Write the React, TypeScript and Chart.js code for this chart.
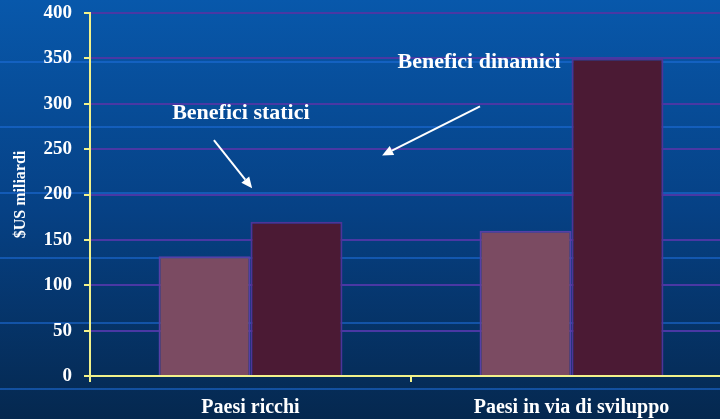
import React, { useEffect, useRef } from "react";
import { Chart, registerables } from "chart.js";

Chart.register(...registerables);

const categories = ["Paesi ricchi", "Paesi in via di sviluppo"];
const seriesNames = ["Benefici statici", "Benefici dinamici"];
const staticValues = [132, 160];
const dynamicValues = [170, 350];
const yTicks = [0, 50, 100, 150, 200, 250, 300, 350, 400];
const yTitle = "$US miliardi";
// annotation texts (position in category index / value units)
const noteTexts = ["Benefici statici", "Benefici dinamici"];
const noteX = [-0.03, 0.712];
const noteY = [289, 346];
// arrows: [x, y] in category index / value units
const arrowStart = [[-0.114, 260], [0.715, 297]];
const arrowEnd = [[0.005, 207], [0.41, 243]];

const SERIF = "'Liberation Serif', 'Times New Roman', serif";

const annotPlugin = {
  id: "annot",
  afterDatasetsDraw(chart: any) {
    const { ctx, scales } = chart;
    const xs = scales.x;
    const ys = scales.y;
    ctx.save();
    ctx.fillStyle = "#ffffff";
    ctx.strokeStyle = "#ffffff";
    ctx.font = `bold 22px ${SERIF}`;
    ctx.textAlign = "center";
    ctx.textBaseline = "middle";
    noteTexts.forEach((t, i) => {
      ctx.fillText(t, xs.getPixelForValue(noteX[i]), ys.getPixelForValue(noteY[i]));
    });
    ctx.lineWidth = 2;
    arrowStart.forEach((s, i) => {
      const e = arrowEnd[i];
      const x0 = xs.getPixelForValue(s[0]);
      const y0 = ys.getPixelForValue(s[1]);
      const x1 = xs.getPixelForValue(e[0]);
      const y1 = ys.getPixelForValue(e[1]);
      const ang = Math.atan2(y1 - y0, x1 - x0);
      const hl = 11;
      const hw = 5;
      const bx = x1 - hl * Math.cos(ang);
      const by = y1 - hl * Math.sin(ang);
      ctx.beginPath();
      ctx.moveTo(x0, y0);
      ctx.lineTo(bx, by);
      ctx.stroke();
      ctx.beginPath();
      ctx.moveTo(x1, y1);
      ctx.lineTo(bx + hw * Math.sin(ang), by - hw * Math.cos(ang));
      ctx.lineTo(bx - hw * Math.sin(ang), by + hw * Math.cos(ang));
      ctx.closePath();
      ctx.fill();
    });
    ctx.restore();
  },
};

export default function App() {
  const ref = useRef<HTMLCanvasElement | null>(null);
  useEffect(() => {
    if (!ref.current) return;
    const chart = new Chart(ref.current, {
      type: "bar",
      data: {
        labels: categories,
        datasets: [
          {
            label: seriesNames[0],
            data: staticValues,
            backgroundColor: "#7b4b62",
            borderColor: "#5540a8",
            borderWidth: 2,
            categoryPercentage: 0.573,
            barPercentage: 1,
          },
          {
            label: seriesNames[1],
            data: dynamicValues,
            backgroundColor: "#4b1a34",
            borderColor: "#4e3498",
            borderWidth: 2,
            categoryPercentage: 0.573,
            barPercentage: 1,
          },
        ],
      },
      options: {
        responsive: false,
        maintainAspectRatio: false,
        animation: false,
        layout: { padding: { left: 0, right: 8, top: 13, bottom: 0 } },
        plugins: { legend: { display: false }, tooltip: { enabled: false } },
        scales: {
          x: {
            offset: true,
            grid: {
              offset: true,
              drawOnChartArea: false,
              drawTicks: true,
              tickLength: 6,
              tickColor: "#f2f28a",
              lineWidth: 2,
            },
            border: { color: "#f2f28a", width: 2 },
            ticks: {
              color: "#ffffff",
              font: { family: SERIF, size: 20, weight: "bold" },
              padding: 14,
              maxRotation: 0,
            },
            afterFit(scale: any) {
              scale.height = 43;
              scale.paddingLeft = 0;
              scale.paddingRight = 0;
            },
          },
          y: {
            min: 0,
            max: 400,
            afterBuildTicks(scale: any) {
              scale.ticks = yTicks.map((v) => ({ value: v }));
            },
            grid: {
              color: "#4a38a4",
              lineWidth: 2,
              tickLength: 6,
              tickColor: "#f2f28a",
            },
            border: { color: "#f2f28a", width: 2 },
            ticks: {
              color: "#ffffff",
              font: { family: SERIF, size: 19, weight: "bold" },
              padding: 12,
            },
            title: {
              display: true,
              text: yTitle,
              color: "#ffffff",
              font: { family: SERIF, size: 16, weight: "bold" },
              padding: { top: 11, bottom: 0 },
            },
            afterFit(scale: any) {
              scale.width = 90;
              scale.paddingTop = 0;
              scale.paddingBottom = 0;
            },
          },
        },
      },
      plugins: [annotPlugin],
    });
    return () => chart.destroy();
  }, []);

  return (
    <div
      style={{
        position: "fixed",
        left: 0,
        top: 0,
        width: 720,
        height: 419,
        overflow: "hidden",
        background:
          "repeating-linear-gradient(to bottom, rgba(0,0,0,0) 0px, rgba(0,0,0,0) 61px, rgba(30,110,220,0.55) 61px, rgba(30,110,220,0.55) 63px, rgba(0,0,0,0) 63px, rgba(0,0,0,0) 65.3px), linear-gradient(to bottom, #0858ab 0%, #064185 50%, #05284f 100%)",
      }}
    >
      <canvas ref={ref} width={740} height={419} style={{ display: "block" }} />
    </div>
  );
}
